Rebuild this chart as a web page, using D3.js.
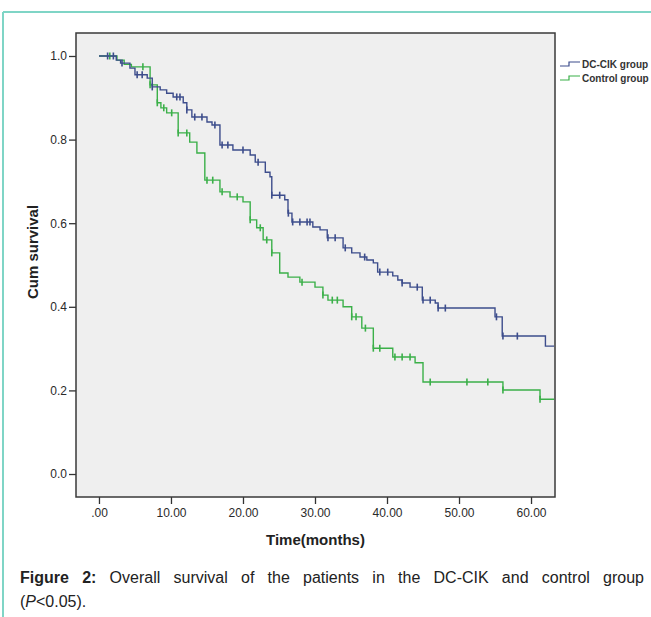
<!DOCTYPE html>
<html>
<head>
<meta charset="utf-8">
<script src="https://cdn.jsdelivr.net/npm/d3@7"></script>
<style>
  body { margin: 0; background: #fff; }
  text { font-family: "Liberation Sans", Arial, sans-serif; }
</style>
</head>
<body>
<svg id="chart"></svg>
<script>
// Kaplan-Meier curves, values
let groups = ['DC-CIK group', 'Control group'];

// [time, survival after the drop]
let dcSteps = [
  [0, 1.0], [2.4, 0.990], [3.0, 0.983], [4.3, 0.971], [5.0, 0.955], [6.7, 0.947],
  [7.4, 0.926], [8.5, 0.919], [9.4, 0.911], [10.3, 0.902], [11.7, 0.888], [12.2, 0.871],
  [12.9, 0.854], [15.0, 0.842], [15.7, 0.835], [16.8, 0.787], [18.6, 0.775], [21.0, 0.763],
  [21.7, 0.746], [23.1, 0.722], [23.75, 0.711], [24.0, 0.667], [25.8, 0.656], [26.25, 0.624],
  [26.8, 0.603], [29.7, 0.591], [30.7, 0.584], [31.7, 0.565], [33.9, 0.541], [35.1, 0.529],
  [36.25, 0.519], [37.2, 0.512], [38.1, 0.505], [38.7, 0.483], [40.8, 0.474], [41.5, 0.464],
  [42.1, 0.457], [43.2, 0.447], [44.9, 0.416], [46.7, 0.409], [47.1, 0.397], [55.0, 0.376],
  [56.0, 0.330], [62.0, 0.306]
];
let dcCensored = [1.2, 2.0, 3.2, 5.3, 6.0, 7.4, 10.8, 11.25, 12.2, 13.3, 14.3, 16.1, 17.1, 17.9,
  20.0, 22.1, 24.0, 25.1, 26.3, 26.9, 27.9, 28.9, 29.3, 31.8, 32.8, 34.2, 36.9, 39.0, 40.1,
  42.1, 44.2, 45.0, 46.0, 47.1, 48.1, 55.2, 56.1, 58.1];
let dcEnd = 63.2;

let ctrlSteps = [
  [0, 1.0], [2.5, 0.990], [3.5, 0.980], [4.5, 0.974], [7.1, 0.931], [8.1, 0.888], [8.6, 0.876],
  [9.4, 0.864], [11.0, 0.816], [12.6, 0.794], [13.6, 0.768], [14.7, 0.703], [16.8, 0.675],
  [18.2, 0.663], [20.0, 0.651], [21.0, 0.608], [21.9, 0.589], [22.8, 0.560], [24.0, 0.529],
  [25.1, 0.481], [26.25, 0.471], [27.9, 0.459], [30.0, 0.447], [31.1, 0.428], [31.8, 0.416],
  [33.9, 0.400], [35.1, 0.376], [36.5, 0.349], [38.1, 0.301], [40.8, 0.280], [43.9, 0.266],
  [45.0, 0.220], [56.1, 0.201], [61.25, 0.179]
];
let ctrlCensored = [1.5, 6.1, 7.1, 8.1, 9.0, 10.1, 11.0, 12.2, 15.0, 15.8, 17.1, 19.2, 21.0,
  22.4, 23.3, 24.0, 28.2, 31.1, 32.4, 33.1, 35.1, 35.7, 37.0, 38.1, 39.0, 41.1, 42.1, 43.2,
  46.0, 51.1, 54.0, 56.1, 61.25];
let ctrlEnd = 63.2;

let xTicks = [0, 10, 20, 30, 40, 50, 60];
let yTicks = [0, 0.2, 0.4, 0.6, 0.8, 1.0];

let w = 651, h = 617;
let svg = d3.select('#chart').attr('width', w).attr('height', h);

// teal panel border (top + left)
svg.append('line').attr('x1', 3).attr('x2', w).attr('y1', 12).attr('y2', 12)
  .attr('stroke', '#7fd5c6').attr('stroke-width', 2);
svg.append('line').attr('x1', 3).attr('x2', 3).attr('y1', 12).attr('y2', h)
  .attr('stroke', '#7fd5c6').attr('stroke-width', 2);

let plot = { left: 76, right: 555, top: 33, bottom: 497 };

let x = d3.scaleLinear().domain([-3.19, 63.33]).range([plot.left, plot.right]);
let y = d3.scaleLinear().domain([-0.055, 1.055]).range([plot.bottom, plot.top]);

svg.append('rect')
  .attr('x', plot.left).attr('y', plot.top)
  .attr('width', plot.right - plot.left).attr('height', plot.bottom - plot.top)
  .attr('fill', '#efefef');

let xAxis = d3.axisBottom(x).tickValues(xTicks)
  .tickFormat(d => d === 0 ? '.00' : d3.format('.2f')(d))
  .tickSizeInner(7).tickSizeOuter(0).tickPadding(4);
let yAxis = d3.axisLeft(y).tickValues(yTicks)
  .tickFormat(d3.format('.1f'))
  .tickSizeInner(7).tickSizeOuter(0).tickPadding(2);

let $x = svg.append('g').attr('transform', `translate(0, ${plot.bottom})`).call(xAxis);
let $y = svg.append('g').attr('transform', `translate(${plot.left}, 0)`).call(yAxis);
[$x, $y].forEach(a => {
  a.select('.domain').remove();
  a.selectAll('line').attr('stroke', '#333').attr('stroke-width', 1.3);
  a.selectAll('text').attr('fill', '#2a2a2a').style('font-size', '12px');
});

// curves
function stepAt(steps, t) {
  let v = steps[0][1];
  steps.forEach(s => { if (s[0] <= t) v = s[1]; });
  return v;
}

let line = d3.line().curve(d3.curveStepAfter)
  .x(d => x(d[0])).y(d => y(d[1]));

let series = [
  { name: groups[0], steps: dcSteps, cens: dcCensored, end: dcEnd, color: '#3d4d8c' },
  { name: groups[1], steps: ctrlSteps, cens: ctrlCensored, end: ctrlEnd, color: '#3bb049' }
];

series.slice().reverse().forEach(s => {
  let pts = s.steps.concat([[s.end, s.steps[s.steps.length - 1][1]]]);
  svg.append('path').datum(pts)
    .attr('d', line)
    .attr('fill', 'none')
    .attr('stroke', s.color)
    .attr('stroke-width', 1.4);
  svg.append('g').selectAll('line')
    .data(s.cens)
    .enter().append('line')
    .attr('x1', d => x(d)).attr('x2', d => x(d))
    .attr('y1', d => y(stepAt(s.steps, d)) - 3.5)
    .attr('y2', d => y(stepAt(s.steps, d)) + 3.5)
    .attr('stroke', s.color)
    .attr('stroke-width', 1.6);
});

// frame
svg.append('rect')
  .attr('x', plot.left).attr('y', plot.top)
  .attr('width', plot.right - plot.left).attr('height', plot.bottom - plot.top)
  .attr('fill', 'none').attr('stroke', '#3a3a3a').attr('stroke-width', 1.5);

// axis titles
svg.append('text')
  .attr('x', (plot.left + plot.right) / 2).attr('y', 545)
  .attr('text-anchor', 'middle')
  .style('font-size', '15px').style('font-weight', 'bold').attr('fill', '#222')
  .text('Time(months)');

svg.append('text')
  .attr('transform', 'translate(38, 252) rotate(-90)')
  .attr('text-anchor', 'middle')
  .style('font-size', '15px').style('font-weight', 'bold').attr('fill', '#222')
  .text('Cum survival');

// legend
let legend = svg.append('g')
  .selectAll('g')
  .data(series)
  .enter().append('g')
  .attr('transform', (d, i) => `translate(560, ${64 + i * 14})`);

legend.append('path')
  .attr('d', 'M0,2 H9 V-2 H20')
  .attr('fill', 'none')
  .attr('stroke', d => d.color)
  .attr('stroke-width', 1.2);

legend.append('text')
  .attr('x', 22).attr('y', 3.5)
  .style('font-size', '10px').style('font-weight', 'bold').attr('fill', '#333')
  .text(d => d.name);

// caption, first line justified
let cap1 = svg.append('text')
  .attr('x', 20).attr('y', 583)
  .style('font-size', '16px').attr('fill', '#222');
cap1.append('tspan').style('font-weight', 'bold').text('Figure 2:');
cap1.append('tspan').text(' Overall survival of the patients in the DC-CIK and control group');
let len = cap1.node().getComputedTextLength();
let gaps = 12;
cap1.attr('word-spacing', Math.max(0, (644 - 20 - len) / gaps));

let cap2 = svg.append('text')
  .attr('x', 20).attr('y', 607)
  .style('font-size', '16px').attr('fill', '#222');
cap2.append('tspan').text('(');
cap2.append('tspan').style('font-style', 'italic').text('P');
cap2.append('tspan').text('<0.05).');
</script>
</body>
</html>
